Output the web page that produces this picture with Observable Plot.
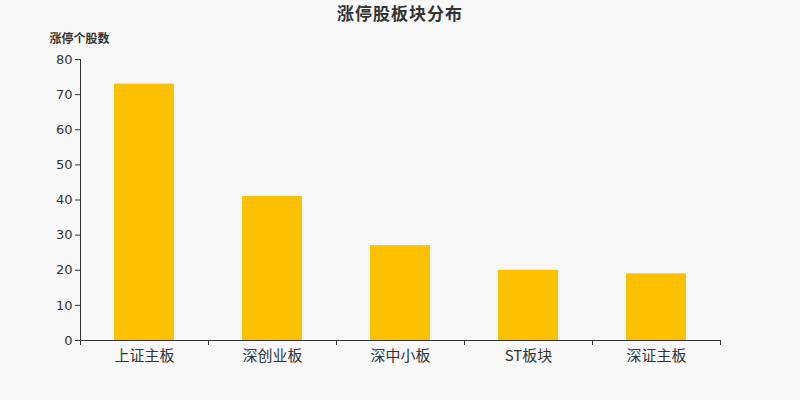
<!DOCTYPE html>
<html><head><meta charset="utf-8">
<script src="https://cdn.jsdelivr.net/npm/d3@7"></script>
<script src="https://cdn.jsdelivr.net/npm/@observablehq/plot@0.6"></script>
<style>
html,body{margin:0;padding:0;background:#f8f8f8;width:800px;height:400px;overflow:hidden;}
#title{height:30px;line-height:25px;text-align:center;font:bold 17px "Noto Sans CJK SC",sans-serif;color:#333;letter-spacing:1px;}
</style></head>
<body>
<div id="title">涨停股板块分布</div>
<div id="chart"></div>
<script>
const categories = ["上证主板","深创业板","深中小板","ST板块","深证主板"];
const counts = [73, 41, 27, 20, 19];
const yTicks = [0,10,20,30,40,50,60,70,80];
const yLabel = "涨停个股数";

const data = categories.map((c,i)=>({cat:c, n:counts[i]}));
const half = 64;

const chart = Plot.plot({
  width: 800,
  height: 370,
  marginLeft: 80,
  marginRight: 80,
  marginTop: 29,
  marginBottom: 60,
  style: {background:"transparent", fontFamily:"DejaVu Sans, sans-serif", color:"#333"},
  x: {domain: categories, paddingInner: 0.53, paddingOuter: 0.265, label: null},
  y: {domain: [0,80], label: null},
  marks: [
    Plot.barY(data, {x:"cat", y:"n", fill:"#FFC000"}),
    Plot.ruleY([0], {stroke:"#333"}),
    Plot.ruleX([categories[0]], {dx:-half, stroke:"#333"}),
    Plot.axisY({ticks: yTicks, tickSize:5, tickPadding:3, fontSize:13, stroke:"#333", fill:"#333"}),
    Plot.axisX({tickSize:5, dx:-half, text:null, stroke:"#333"}),
    Plot.axisX({ticks:[categories[categories.length-1]], tickSize:5, dx:half, text:null, stroke:"#333"}),
    Plot.axisX({tickSize:0, tickPadding:10, fontSize:15, fill:"#333", fontFamily:"Noto Sans CJK SC, DejaVu Sans, sans-serif"}),
    Plot.text([yLabel], {frameAnchor:"top-left", dx:-1, dy:-25, textAnchor:"middle", fontSize:12, fontWeight:"bold", fill:"#333", fontFamily:"Noto Sans CJK SC, sans-serif"})
  ]
});
document.getElementById("chart").appendChild(chart);
</script>
</body></html>
